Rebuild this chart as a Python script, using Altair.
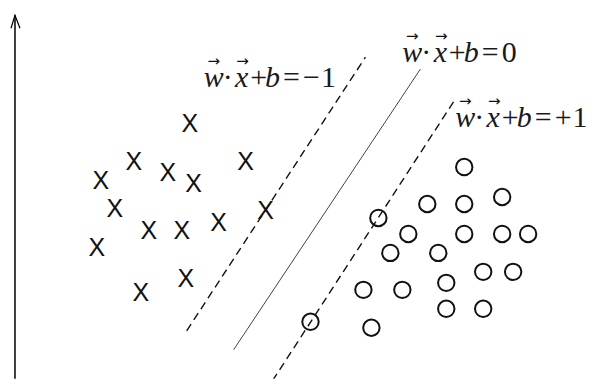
import altair as alt
import pandas as pd

# ---- data (figure coordinates, y upward) ----
# class "X" points
x_pts_x = [189, 133, 167, 193, 100, 245, 114, 148, 181, 218, 265, 96, 140, 185]
x_pts_y = [264, 226, 215, 204, 207, 226, 179, 157, 157, 165, 177, 140, 95, 109]

# class "O" points
o_pts_x = [464, 427, 464, 502, 378, 408, 464, 502, 528, 390, 438, 483, 513, 446, 363, 402, 446, 483, 310, 371]
o_pts_y = [220, 183, 183, 190, 169, 153, 153, 153, 153, 134, 134, 115, 115, 104, 97, 97, 78, 78, 65, 59]

# separating lines: endpoints
line_names = ["minus", "minus", "zero", "zero", "plus", "plus"]
line_x = [365, 186, 420, 233, 455, 272]
line_y = [330, 56, 318, 37, 288, 6]
line_dashed = [True, True, False, False, True, True]

# y axis with arrow head
axis_x = [14, 14]
axis_y = [0, 372]
head_x = [10, 14, 19]
head_y = [359, 372, 359]

# equation labels: tokens
tok_label = ["minus"] * 8 + ["zero"] * 7 + ["plus"] * 8
tok_text = ["w", "·", "x", "+", "b", "=", "−", "1",
            "w", "·", "x", "+", "b", "=", "0",
            "w", "·", "x", "+", "b", "=", "+", "1"]
tok_italic = ([True, False, True, False, True, False, False, False]
              + [True, False, True, False, True, False, False]
              + [True, False, True, False, True, False, False, False])
tok_x = [213, 227, 241, 258, 272, 291, 311, 328,
         412, 426, 440, 457, 471, 490, 509,
         465, 479, 493, 510, 524, 543, 563, 580]
tok_base = [300] * 8 + [325] * 7 + [260] * 8
vec_x = [213, 242, 412, 441, 465, 494]
vec_y = [326, 326, 351, 351, 286, 286]

# ---- build tables ----
xs = pd.DataFrame({"x": x_pts_x, "y": x_pts_y, "t": ["X"] * len(x_pts_x)})
os_ = pd.DataFrame({"x": o_pts_x, "y": o_pts_y})
lines = pd.DataFrame({"name": line_names, "x": line_x, "y": line_y, "dashed": line_dashed})
yaxis = pd.DataFrame({"x": axis_x, "y": axis_y, "o": [0, 1]})
head = pd.DataFrame({"x": head_x, "y": head_y, "o": [0, 1, 2]})
toks = pd.DataFrame({"label": tok_label, "t": tok_text, "it": tok_italic, "x": tok_x, "y": tok_base})
vecs = pd.DataFrame({"x": vec_x, "y": vec_y, "t": ["→"] * len(vec_x)})

X = alt.X("x:Q", scale=alt.Scale(domain=[8, 601], nice=False, zero=False), axis=None)
Y = alt.Y("y:Q", scale=alt.Scale(domain=[8, 379], nice=False, zero=False), axis=None)

SERIF = "'Liberation Serif', 'DejaVu Serif', serif"

ax_line = alt.Chart(yaxis).mark_line(color="black", strokeWidth=1.5, clip=True).encode(
    x=X, y=Y, order="o:Q")
ax_head = alt.Chart(head).mark_line(color="black", strokeWidth=1.2).encode(
    x=X, y=Y, order="o:Q")

dashed = alt.Chart(lines[lines.dashed]).mark_line(
    color="#111", strokeWidth=1.4, strokeDash=[8, 5], clip=True).encode(
    x=X, y=Y, detail="name:N")
solid = alt.Chart(lines[~lines.dashed]).mark_line(
    color="#444", strokeWidth=1.0).encode(x=X, y=Y, detail="name:N")

xmarks = alt.Chart(xs).mark_text(
    font="Liberation Sans", fontSize=25, color="#111", baseline="middle", align="center", dy=1
).encode(x=X, y=Y, text="t:N")

omarks = alt.Chart(os_).mark_point(
    shape="circle", size=270, filled=False, stroke="#111", strokeWidth=2, opacity=1
).encode(x=X, y=Y)

tok_it = alt.Chart(toks[toks.it]).mark_text(
    font=SERIF, fontStyle="italic", fontSize=30, color="#1a1a1a",
    baseline="alphabetic", align="center").encode(x=X, y=Y, text="t:N")
tok_rm = alt.Chart(toks[~toks.it]).mark_text(
    font=SERIF, fontSize=30, color="#1a1a1a",
    baseline="alphabetic", align="center").encode(x=X, y=Y, text="t:N")
vec_marks = alt.Chart(vecs).mark_text(
    font="DejaVu Sans", fontSize=15, color="#111", baseline="middle", align="center"
).encode(x=X, y=Y, text="t:N")

chart = alt.layer(
    ax_line, ax_head, dashed, solid, xmarks, omarks, tok_it, tok_rm, vec_marks
).properties(width=593, height=371, padding=0, background="white").configure_view(stroke=None)

chart.save("out.html", embed_options={"renderer": "svg", "actions": False})
